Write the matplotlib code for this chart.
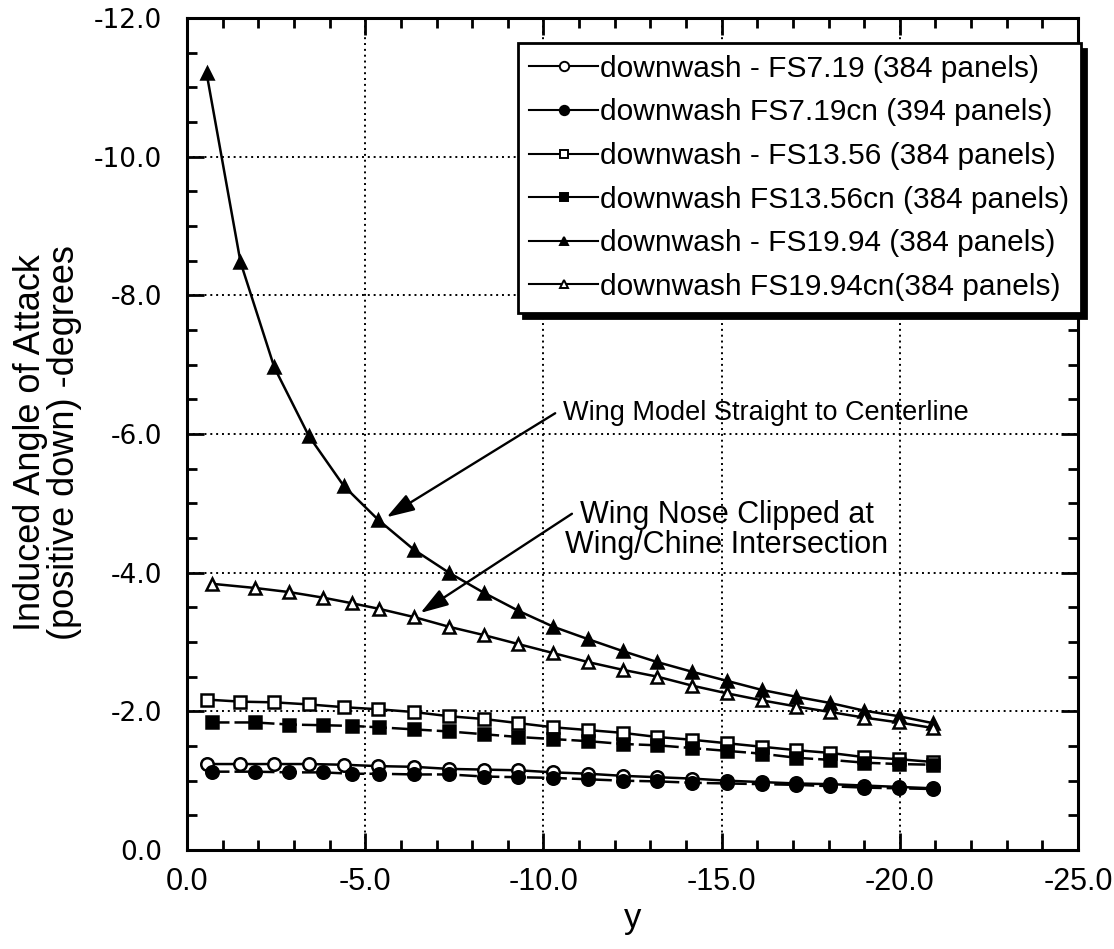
import matplotlib
matplotlib.use("Agg")
import matplotlib.pyplot as plt
from matplotlib.lines import Line2D
from matplotlib.ticker import MultipleLocator, FormatStrFormatter

plt.rcParams["axes.unicode_minus"] = False

# spanwise stations (y) for the two paneling families
y_full = [-0.55, -1.5, -2.45, -3.42, -4.4, -5.37, -6.37, -7.35, -8.33, -9.3, -10.28,
          -11.26, -12.22, -13.2, -14.18, -15.15, -16.12, -17.1, -18.05, -19.0, -19.97, -20.93]
y_clip = [-0.7, -1.9, -2.87, -3.82, -4.62, -5.38, -6.37, -7.35, -8.33, -9.3, -10.28,
          -11.26, -12.22, -13.2, -14.18, -15.15, -16.12, -17.1, -18.05, -19.0, -19.97, -20.93]

# induced angle of attack (deg) at each station
fs719 = [-1.24, -1.24, -1.24, -1.24, -1.23, -1.21, -1.20, -1.17, -1.16, -1.15, -1.12,
         -1.10, -1.07, -1.05, -1.03, -1.00, -0.98, -0.96, -0.95, -0.93, -0.91, -0.89]
fs719cn = [-1.13, -1.13, -1.12, -1.12, -1.10, -1.10, -1.09, -1.09, -1.06, -1.05, -1.04,
           -1.02, -1.00, -0.99, -0.97, -0.96, -0.95, -0.94, -0.92, -0.90, -0.89, -0.88]
fs1356 = [-2.17, -2.14, -2.13, -2.10, -2.06, -2.03, -1.99, -1.93, -1.89, -1.83, -1.77,
          -1.73, -1.69, -1.63, -1.59, -1.54, -1.49, -1.44, -1.40, -1.34, -1.31, -1.27]
fs1356cn = [-1.84, -1.84, -1.81, -1.80, -1.79, -1.77, -1.74, -1.71, -1.67, -1.63, -1.60,
            -1.57, -1.53, -1.51, -1.47, -1.43, -1.39, -1.33, -1.30, -1.26, -1.24, -1.23]
fs1994 = [-11.2, -8.48, -6.96, -5.97, -5.25, -4.76, -4.33, -4.0, -3.71, -3.45, -3.22,
          -3.04, -2.87, -2.71, -2.57, -2.44, -2.31, -2.21, -2.12, -2.01, -1.93, -1.83]
fs1994cn = [-3.84, -3.78, -3.72, -3.64, -3.56, -3.48, -3.36, -3.22, -3.10, -2.97, -2.84,
            -2.71, -2.60, -2.50, -2.37, -2.26, -2.16, -2.07, -1.99, -1.91, -1.84, -1.76]

labels = [
    "downwash - FS7.19 (384 panels)",
    "downwash FS7.19cn (394 panels)",
    "downwash - FS13.56 (384 panels)",
    "downwash FS13.56cn (384 panels)",
    "downwash - FS19.94 (384 panels)",
    "downwash FS19.94cn(384 panels)",
]

sans = "Liberation Sans"

fig = plt.figure(figsize=(11.14, 9.49), dpi=100)
ax = fig.add_axes([0.1679, 0.1043, 0.7998, 0.8767])

lw = 1.8
# (x, y, marker, filled, dashed, marker size)
series = [
    (y_full, fs719, "o", False, False, 9),
    (y_clip, fs719cn, "o", True, True, 9),
    (y_full, fs1356, "s", False, False, 8.5),
    (y_clip, fs1356cn, "s", True, True, 8.5),
    (y_full, fs1994, "^", True, False, 8),
    (y_clip, fs1994cn, "^", False, False, 8),
]

handles = []
for (xs, ys, mk, filled, dashed, ms), lab in zip(series, labels):
    ax.plot(xs, ys, color="black", lw=lw,
            linestyle=(0, (7, 2)) if dashed else "-",
            marker=mk, ms=ms, mew=1.8, mec="black",
            mfc="black" if filled else "white", zorder=3)
    handles.append(Line2D([], [], color="black", lw=1.5, marker=mk,
                          ms=ms * 0.75, mew=1.4, mec="black",
                          mfc="black" if filled else "white"))

ax.set_xlim(0, -25)
ax.set_ylim(0, -12)

ax.xaxis.set_major_locator(MultipleLocator(5))
ax.xaxis.set_minor_locator(MultipleLocator(1))
ax.yaxis.set_major_locator(MultipleLocator(2))
ax.yaxis.set_minor_locator(MultipleLocator(0.5))
ax.xaxis.set_major_formatter(FormatStrFormatter("%.1f"))
ax.yaxis.set_major_formatter(FormatStrFormatter("%.1f"))

ax.tick_params(which="both", direction="in", top=True, right=True, width=2.0, color="black")
ax.tick_params(which="major", length=12)
ax.tick_params(which="minor", length=7.5)
ax.tick_params(axis="x", which="major", pad=12, labelsize=22)
ax.tick_params(axis="y", which="major", pad=18, labelsize=19)
for t in ax.get_xticklabels():
    t.set_fontfamily(sans)
for t in ax.get_yticklabels():
    t.set_fontfamily("DejaVu Sans")

for sp in ax.spines.values():
    sp.set_linewidth(2.2)

ax.grid(True, which="major", color="black", linestyle=(0, (1, 2.0)), linewidth=1.4)
ax.set_axisbelow(True)

ax.set_xlabel("y", fontsize=25, family=sans, labelpad=4)
ax.set_ylabel("Induced Angle of Attack\n(positive down) -degrees", fontsize=26,
              family=sans, linespacing=0.95)
ax.yaxis.set_label_coords(-0.118, 0.49)

leg = ax.legend(handles, labels, loc="upper right", bbox_to_anchor=(1.003, 0.97),
                frameon=True, fancybox=False, prop={"family": sans, "size": 21.5},
                handlelength=2.3, handletextpad=0.05, labelspacing=0.52,
                borderpad=0.4, borderaxespad=0.0,
                shadow={"color": "black", "alpha": 1.0, "ox": 4, "oy": -4})
leg.get_frame().set_edgecolor("black")
leg.get_frame().set_linewidth(2.0)
leg.set_zorder(5)

arrow = dict(arrowstyle="-|>,head_length=1.7,head_width=0.55", color="black",
             lw=1.7, shrinkA=0, shrinkB=0)
ax.annotate("", xy=(-5.6, -4.8), xytext=(-10.33, -6.3), arrowprops=arrow, zorder=4)
ax.text(-10.55, -6.3, "Wing Model Straight to Centerline", fontsize=19.5,
        family=sans, ha="left", va="center")

ax.annotate("", xy=(-6.55, -3.42), xytext=(-10.8, -4.85), arrowprops=arrow, zorder=4)
ax.text(-15.15, -4.62, "Wing Nose Clipped at\nWing/Chine Intersection", fontsize=22,
        family=sans, ha="center", va="center", linespacing=1.0)

fig.savefig("out.png", dpi=100, facecolor="white")
